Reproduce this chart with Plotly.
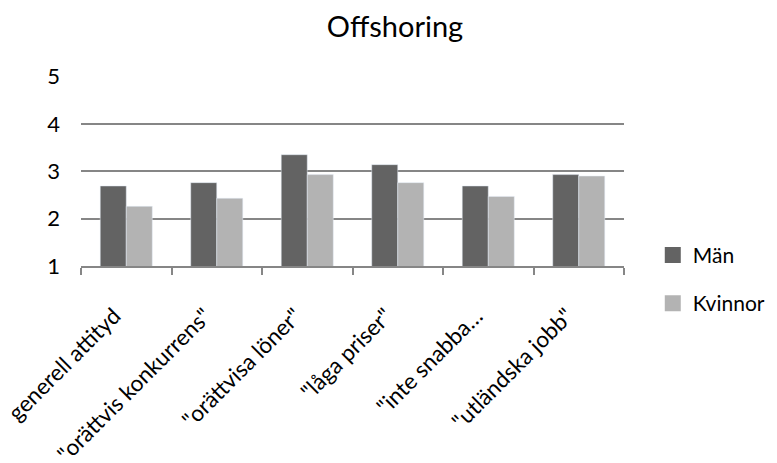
import plotly.graph_objects as go

categories = ["generell attityd", "\"orättvis konkurrens\"", "\"orättvisa löner\"",
              "\"låga priser\"", "\"inte snabba…", "\"utländska jobb\""]
man = [2.69, 2.76, 3.35, 3.14, 2.69, 2.93]
kvinnor = [2.26, 2.43, 2.93, 2.76, 2.47, 2.90]
y_ticks = [1, 2, 3, 4, 5]

FONT = "Lato, Carlito, Calibri, sans-serif"
C_MAN = "#636363"
C_KV = "#b3b3b3"

fig = go.Figure()
fig.add_trace(go.Bar(x=categories, y=man, name="Män", marker_color=C_MAN,
                     showlegend=False))
fig.add_trace(go.Bar(x=categories, y=kvinnor, name="Kvinnor", marker_color=C_KV,
                     showlegend=False))
# legend entries (square swatches)
fig.add_trace(go.Scatter(x=[None], y=[None], mode="markers", name="Män",
                         marker=dict(symbol="square", size=16, color=C_MAN),
                         legendgroup="a", hoverinfo="skip"))
fig.add_trace(go.Scatter(x=[None], y=[None], mode="markers", name="Kvinnor",
                         marker=dict(symbol="square", size=16, color=C_KV),
                         legendgroup="b", hoverinfo="skip"))

fig.update_layout(
    width=777, height=463,
    margin=dict(l=81, r=153, t=76, b=197, autoexpand=False),
    paper_bgcolor="white", plot_bgcolor="white",
    font=dict(family=FONT, size=22, color="#000000"),
    title=dict(text="Offshoring", x=395 / 777, xref="container", xanchor="center",
               y=1 - 27 / 463, yanchor="middle", font=dict(size=29, family=FONT)),
    barmode="group", bargap=0.425, bargroupgap=0,
    showlegend=True,
    legend=dict(x=1.053, xanchor="left", y=0.164, yanchor="top",
                tracegroupgap=18, font=dict(size=21), bgcolor="rgba(0,0,0,0)"),
    xaxis=dict(tickangle=-45, ticks="outside", tickson="boundaries", ticklen=7,
               tickcolor="#868686", tickwidth=2, showline=True, linecolor="#868686",
               linewidth=2, showgrid=False, tickfont=dict(size=22.5), automargin=False,
               ticklabelstandoff=26, ticklabelshift=-12),
    yaxis=dict(range=[1, 5.012], tickvals=y_ticks, showgrid=True, gridcolor="#868686",
               gridwidth=2, zeroline=False, showline=False, ticks="", ticklen=0,
               tickfont=dict(size=22), automargin=False, ticklabelstandoff=20),
)

fig.write_html("out.html", config={"displayModeBar": False},
               post_script="document.body.style.margin='0';")
